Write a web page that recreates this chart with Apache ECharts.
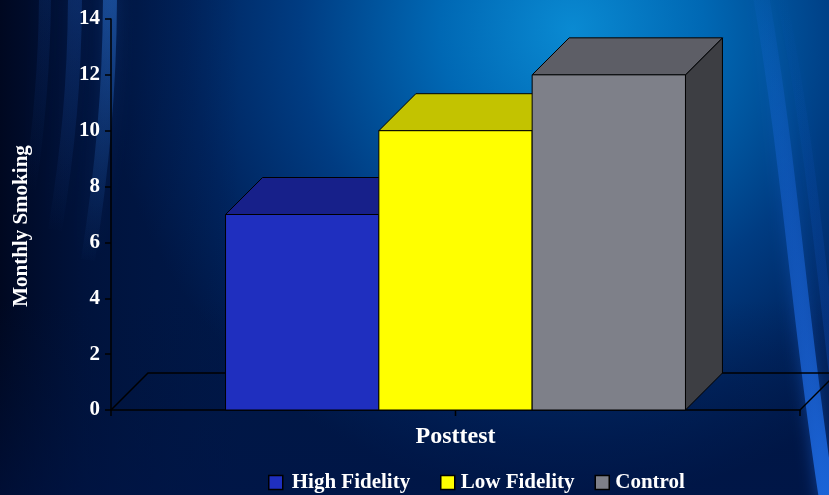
<!DOCTYPE html>
<html>
<head>
<meta charset="utf-8">
<title>Monthly Smoking</title>
<script src="https://cdn.jsdelivr.net/npm/echarts@6/dist/echarts.min.js"></script>
<style>
  html, body { margin: 0; padding: 0; background: #001a48; }
  #chart { width: 829px; height: 495px; }
</style>
</head>
<body>
<div id="chart"></div>
<script>
// Chart data
const categories = ['Posttest'];
const seriesNames = ['High Fidelity', 'Low Fidelity', 'Control'];
const highFidelity = [7];
const lowFidelity = [10];
const control = [12];
const yTicks = [0, 2, 4, 6, 8, 10, 12, 14];

// Face colours for each bar: front, top, side
const faces = [
  { front: '#1f2fbf', top: '#17208a', side: '#10185e' },
  { front: '#ffff00', top: '#c3c300', side: '#7e7e00' },
  { front: '#7e8089', top: '#5d5e66', side: '#3d3e43' }
];

const FONT = "'Liberation Serif', 'Times New Roman', serif";
const BAR_SHARE = 0.2225;   // width of one bar as a share of the category band
const DEPTH_SHARE = 0.0537; // 3D depth as a share of the category band

function barRenderer(idx) {
  return function (params, api) {
    const base = api.coord([api.value(0), 0]);
    const top = api.coord([api.value(0), api.value(1)]);
    const band = api.size([1, 0])[0];
    const w = band * BAR_SHARE;
    const d = band * DEPTH_SHARE;
    const x0 = base[0] - 1.5 * w + idx * w;
    const x1 = x0 + w;
    const yb = base[1];
    const yt = top[1];
    const c = faces[idx];
    const stroke = { stroke: '#000', lineWidth: 1 };
    return {
      type: 'group',
      children: [
        { type: 'polygon', shape: { points: [[x1, yt], [x1 + d, yt - d], [x1 + d, yb - d], [x1, yb]] },
          style: Object.assign({ fill: c.side }, stroke) },
        { type: 'polygon', shape: { points: [[x0, yt], [x0 + d, yt - d], [x1 + d, yt - d], [x1, yt]] },
          style: Object.assign({ fill: c.top }, stroke) },
        { type: 'rect', shape: { x: x0, y: yt, width: w, height: yb - yt },
          style: Object.assign({ fill: c.front }, stroke) }
      ]
    };
  };
}

// Floor outline behind the bars plus the tick under the category centre
function floorRenderer(params, api) {
  const cs = params.coordSys;
  const band = api.size([1, 0])[0];
  const d = band * DEPTH_SHARE;
  const yb = cs.y + cs.height;
  const mid = api.coord([0, 0])[0];
  const line = { stroke: '#000', lineWidth: 1.5, fill: null };
  return {
    type: 'group',
    children: [
      { type: 'polyline', shape: { points: [[cs.x, yb], [cs.x + d, yb - d], [cs.x + cs.width + d + 40, yb - d]] }, style: line },
      { type: 'line', shape: { x1: cs.x + cs.width, y1: yb, x2: cs.x + cs.width + d, y2: yb - d }, style: line },
      { type: 'line', shape: { x1: mid, y1: yb, x2: mid, y2: yb + 6 }, style: line }
    ]
  };
}

const values = [highFidelity, lowFidelity, control];

const barSeries = seriesNames.map((name, i) => ({
  name: name,
  type: 'custom',
  renderItem: barRenderer(i),
  itemStyle: { color: faces[i].front, borderColor: '#000', borderWidth: 1 },
  data: categories.map((c, j) => [j, values[i][j]]),
  z: 3
}));

// soft vertical fade used for the light streaks
function fade(topAlpha, bottomAlpha, rgb) {
  return { type: 'linear', x: 0, y: 0, x2: 0, y2: 1, colorStops: [
    { offset: 0, color: 'rgba(' + rgb + ',' + topAlpha + ')' },
    { offset: 1, color: 'rgba(' + rgb + ',' + bottomAlpha + ')' }
  ] };
}

const legendText = { color: '#fff', fontFamily: FONT, fontWeight: 'bold', fontSize: 21 };

// legend rows share one look; the first entry sits a little apart
function legendRow(names, left, textPad) {
  return {
    data: names,
    left: left,
    top: 472,
    padding: 0,
    icon: 'rect',
    itemWidth: 14,
    itemHeight: 14,
    itemGap: 20,
    itemStyle: { borderColor: '#000', borderWidth: 1.5 },
    textStyle: Object.assign({ padding: [0, 0, 0, textPad] }, legendText)
  };
}

const chart = echarts.init(document.getElementById('chart'), null, { renderer: 'canvas' });

chart.setOption({
  animation: false,
  backgroundColor: {
    type: 'radial', x: 0.69, y: 0.06, r: 0.95,
    colorStops: [
      { offset: 0, color: '#0a8ad2' },
      { offset: 0.28, color: '#0068b4' },
      { offset: 0.58, color: '#003c82' },
      { offset: 0.82, color: '#00245e' },
      { offset: 1, color: '#001848' }
    ]
  },
  graphic: [
    // dark wash along the left edge
    { type: 'rect', z: -10, shape: { x: 0, y: 0, width: 240, height: 495 },
      style: { fill: { type: 'linear', x: 0, y: 0, x2: 1, y2: 0,
        colorStops: [{ offset: 0, color: 'rgba(0,6,28,0.9)' }, { offset: 0.35, color: 'rgba(0,10,40,0.4)' }, { offset: 1, color: 'rgba(0,20,60,0)' }] } } },
    // dark wash along the bottom
    { type: 'rect', z: -10, shape: { x: 0, y: 300, width: 829, height: 195 },
      style: { fill: { type: 'linear', x: 0, y: 0, x2: 0, y2: 1,
        colorStops: [{ offset: 0, color: 'rgba(0,20,60,0)' }, { offset: 1, color: 'rgba(0,20,70,0.55)' }] } } },
    // soft light streaks on the left
    { type: 'bezierCurve', z: -9, shape: { x1: 110, y1: -10, cpx1: 110, cpy1: 90, cpx2: 102, cpy2: 170, x2: 88, y2: 260 },
      style: { stroke: fade(0.45, 0, '50,130,235'), lineWidth: 14, shadowBlur: 18, shadowColor: 'rgba(40,120,230,0.5)' } },
    { type: 'bezierCurve', z: -9, shape: { x1: 75, y1: -10, cpx1: 75, cpy1: 80, cpx2: 68, cpy2: 150, x2: 55, y2: 230 },
      style: { stroke: fade(0.25, 0, '40,110,220'), lineWidth: 14, shadowBlur: 18, shadowColor: 'rgba(40,110,220,0.4)' } },
    { type: 'bezierCurve', z: -9, shape: { x1: 45, y1: -10, cpx1: 45, cpy1: 60, cpx2: 40, cpy2: 120, x2: 30, y2: 190 },
      style: { stroke: fade(0.15, 0, '30,100,210'), lineWidth: 12, shadowBlur: 16, shadowColor: 'rgba(30,100,210,0.3)' } },
    // soft light streak on the right
    { type: 'bezierCurve', z: -9, shape: { x1: 760, y1: -10, cpx1: 790, cpy1: 160, cpx2: 800, cpy2: 330, x2: 828, y2: 505 },
      style: { stroke: fade(0.05, 0.85, '30,110,235'), lineWidth: 16, shadowBlur: 16, shadowColor: 'rgba(30,110,235,0.6)' } },
    { type: 'bezierCurve', z: -9, shape: { x1: 780, y1: -10, cpx1: 815, cpy1: 160, cpx2: 825, cpy2: 320, x2: 850, y2: 505 },
      style: { stroke: fade(0.0, 0.35, '20,90,210'), lineWidth: 10, shadowBlur: 12, shadowColor: 'rgba(20,90,210,0.5)' } },
    // y-axis title
    { type: 'text', x: 22, y: 226, rotation: Math.PI / 2, z: 10,
      style: { text: 'Monthly Smoking', fill: '#fff', font: "bold 21px " + FONT, align: 'center', verticalAlign: 'middle' } }
  ],
  grid: { left: 111, right: 29, top: 19, bottom: 85, containLabel: false },
  legend: [
    legendRow([seriesNames[0]], 268, 4),
    legendRow([seriesNames[1], seriesNames[2]], 440, 1)
  ],
  xAxis: {
    type: 'category',
    data: categories,
    axisLine: { lineStyle: { color: '#000', width: 1.5 } },
    axisTick: { show: true, length: 6, lineStyle: { color: '#000', width: 1.5 } },
    axisLabel: { color: '#fff', fontFamily: FONT, fontWeight: 'bold', fontSize: 24, margin: 15 },
    splitLine: { show: false }
  },
  yAxis: {
    type: 'value',
    min: yTicks[0],
    max: yTicks[yTicks.length - 1],
    interval: yTicks[1] - yTicks[0],
    axisLine: { show: true, lineStyle: { color: '#000', width: 1.5 } },
    axisTick: { show: true, length: 6, lineStyle: { color: '#000', width: 1.5 } },
    axisLabel: { color: '#fff', fontFamily: FONT, fontWeight: 'bold', fontSize: 21, margin: 11 },
    splitLine: { show: false }
  },
  series: [
    { name: 'floor', type: 'custom', renderItem: floorRenderer, data: [[0, 0]], z: 1, silent: true }
  ].concat(barSeries)
});
</script>
</body>
</html>
